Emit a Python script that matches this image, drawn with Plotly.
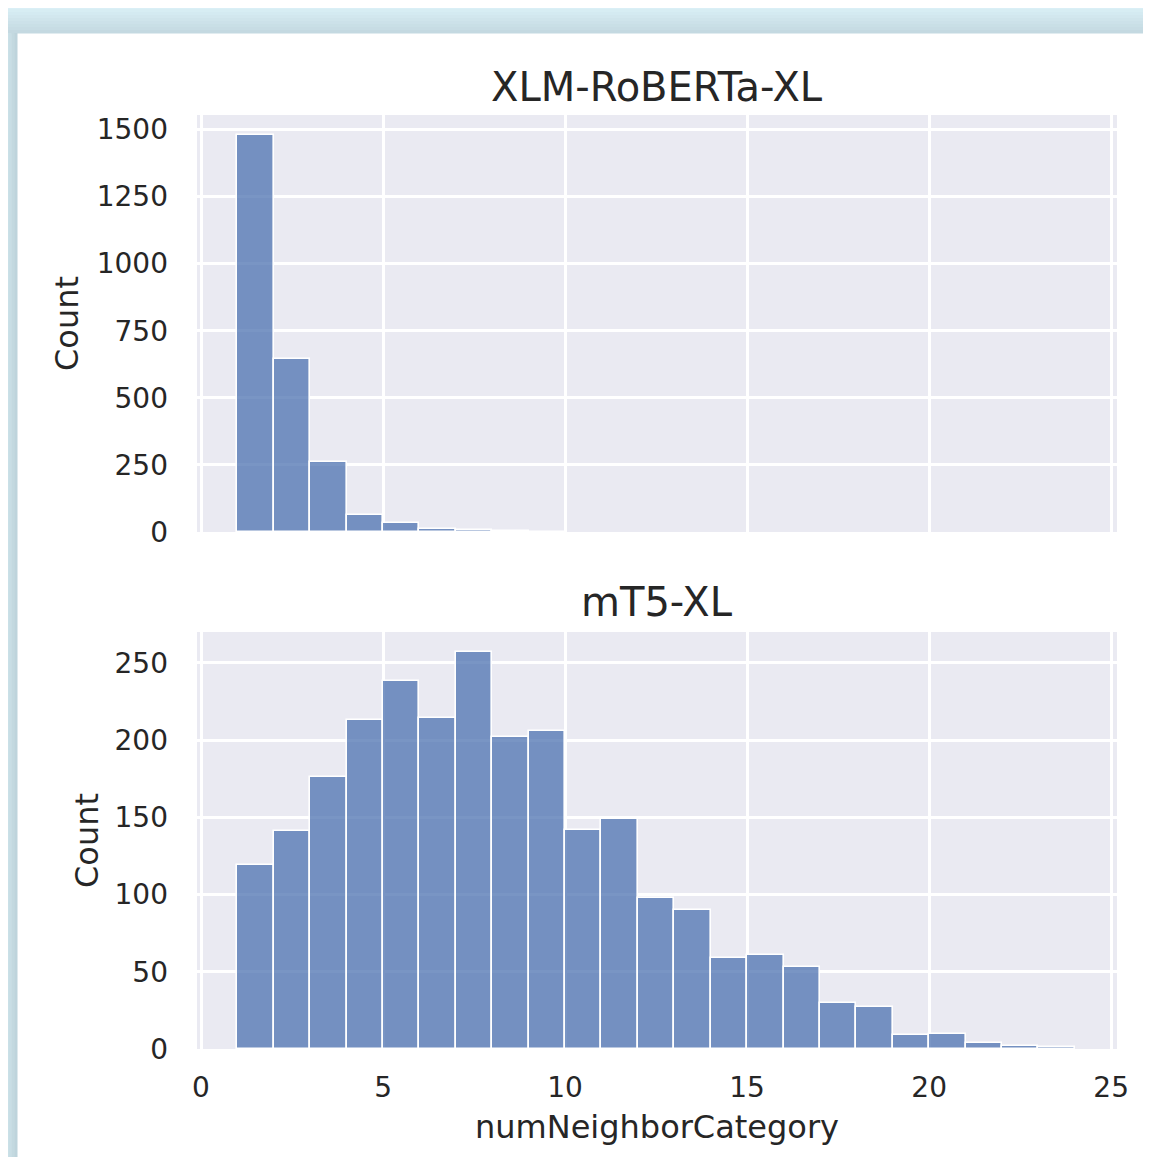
import plotly.graph_objects as go

# ---- data ----
bin_left = list(range(1, 24))  # bins of width 1 starting at 1
xlmr_counts = [1481, 644, 260, 62, 33, 10, 9, 5, 1]
mt5_counts = [119, 141, 176, 213, 238, 214, 257, 202, 206, 142, 149, 98, 90, 59, 61, 53, 30, 27, 9, 10, 4, 2, 1]
titles = ["XLM-RoBERTa-XL", "mT5-XL"]
x_ticks = [0, 5, 10, 15, 20, 25]
y_ticks_top = [0, 250, 500, 750, 1000, 1250, 1500]
y_ticks_bottom = [0, 50, 100, 150, 200, 250]

OFF = 8  # page body margin
SW, SH = 1151, 1157
W, H = SW - OFF, SH - OFF
L, R, T, B = 197 - OFF, SW - 1117, 115 - OFF, SH - 1049
PW, PH = W - L - R, H - T - B

TXT = "#262626"
FONT = "DejaVu Sans"
BAR = "rgba(76,114,176,0.75)"

def px2x(px):  # screen px -> paper x
    return (px - OFF - L) / PW

def px2y(py):  # screen px -> paper y
    return (H - B - (py - OFF)) / PH

fig = go.Figure()
fig.add_trace(go.Bar(x=bin_left[:len(xlmr_counts)], y=xlmr_counts, offset=0, width=1,
                     marker=dict(color=BAR, line=dict(color="white", width=1.6)),
                     xaxis="x", yaxis="y", showlegend=False))
fig.add_trace(go.Bar(x=bin_left, y=mt5_counts, offset=0, width=1,
                     marker=dict(color=BAR, line=dict(color="white", width=1.6)),
                     xaxis="x2", yaxis="y2", showlegend=False))

xr = [-0.11, 25.16]
common_ax = dict(showgrid=True, gridcolor="white", gridwidth=2.5, zeroline=False,
                 showline=False, ticks="", tickfont=dict(family=FONT, size=28, color=TXT))
top_dom = [1 - 417 / PH, 1]
bot_dom = [0, 417 / PH]
title_font = dict(family=FONT, size=32, color=TXT)

fig.update_layout(
    width=W, height=H,
    margin=dict(l=L, r=R, t=T, b=B, autoexpand=False),
    paper_bgcolor="white", plot_bgcolor="#eaeaf2",
    bargap=0,
    font=dict(family=FONT, color=TXT),
    xaxis=dict(common_ax, domain=[0, 1], anchor="y", range=xr, tickvals=x_ticks,
               showticklabels=False, matches="x2"),
    yaxis=dict(common_ax, domain=top_dom, anchor="x", range=[0, 1554],
               tickvals=y_ticks_top, ticklabelstandoff=28,
               title=dict(text="Count", font=title_font, standoff=8)),
    xaxis2=dict(common_ax, domain=[0, 1], anchor="y2", range=xr, tickvals=x_ticks,
                ticklabelstandoff=19,
                title=dict(text="numNeighborCategory", font=title_font, standoff=12)),
    yaxis2=dict(common_ax, domain=bot_dom, anchor="x2", range=[0, 270],
                tickvals=y_ticks_bottom, ticklabelstandoff=28,
                title=dict(text="Count", font=title_font, standoff=6)),
)

# subplot titles
fig.add_annotation(text=titles[0], xref="paper", yref="paper", x=0.5, y=px2y(87),
                   xanchor="center", yanchor="middle", showarrow=False,
                   font=dict(family=FONT, size=40, color=TXT))
fig.add_annotation(text=titles[1], xref="paper", yref="paper", x=0.5, y=px2y(602),
                   xanchor="center", yanchor="middle", showarrow=False,
                   font=dict(family=FONT, size=40, color=TXT))

# light blue frame (gradient bands) around the white card
def mix(c1, c2, t):
    return "rgb(%d,%d,%d)" % tuple(round(a + (b - a) * t) for a, b in zip(c1, c2))

c_out = (223, 245, 251)
c_in = (196, 217, 225)
n = 11
for i in range(n):
    y0 = 33 * i / n
    y1 = 33 * (i + 1) / n + 0.5
    fig.add_shape(type="rect", xref="paper", yref="paper", layer="below",
                  x0=px2x(0), x1=px2x(SW + 20), y0=px2y(y1), y1=px2y(y0),
                  fillcolor=mix(c_out, c_in, i / (n - 1)), line=dict(width=0))
m = 6
for i in range(m):
    x0 = 17 * i / m
    x1 = 17 * (i + 1) / m + 0.5
    fig.add_shape(type="rect", xref="paper", yref="paper", layer="below",
                  x0=px2x(x0), x1=px2x(x1), y0=px2y(SH + 20), y1=px2y(33),
                  fillcolor=mix((214, 236, 242), (190, 212, 220), i / (m - 1)), line=dict(width=0))

fig.write_html("out.html")
